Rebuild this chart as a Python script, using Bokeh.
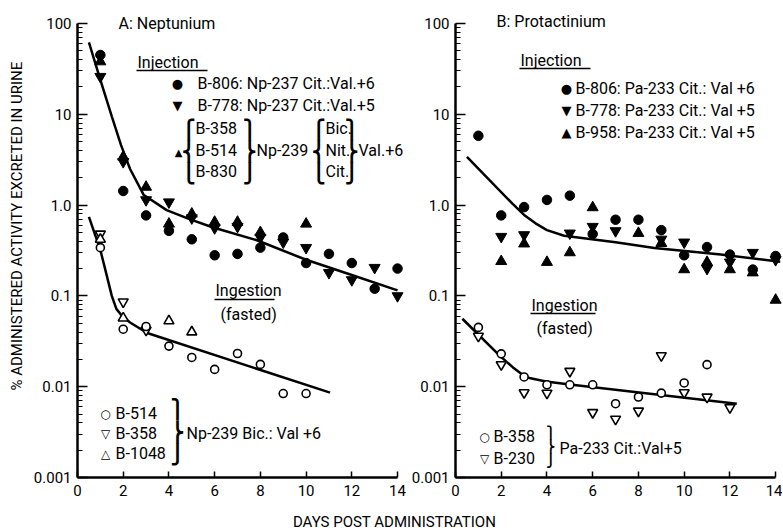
from bokeh.plotting import figure
from bokeh.layouts import column, row
from bokeh.models import Range1d, FixedTicker, CustomJSTickFormatter, Label, BoxAnnotation, Title
from bokeh.embed import file_html
from bokeh.resources import INLINE

# ---------------- data ----------------
X_TICKS = [0, 2, 4, 6, 8, 10, 12, 14]
Y_TICKS = [0.001, 0.01, 0.1, 1, 10, 100]

# Panel A: Neptunium, injection
A_DAYS_806 = [1, 2, 3, 4, 5, 6, 7, 8, 9, 10, 11, 12, 13, 14]
A_NP237_806 = [45, 1.43, 0.77, 0.52, 0.42, 0.28, 0.29, 0.34, 0.44, 0.23, 0.29, 0.23, 0.12, 0.2]
A_DAYS_778 = [1, 2, 3, 4, 5, 6, 7, 8, 9, 10, 11, 12, 13, 14]
A_NP237_778 = [26, 3.0, 1.14, 1.08, 0.72, 0.56, 0.58, 0.44, 0.39, 0.34, 0.18, 0.15, 0.205, 0.1]
A_DAYS_239 = [1, 2, 3, 4, 5, 6, 7, 8, 10]
A_NP239_INJ = [38, 3.4, 1.58, 0.62, 0.8, 0.65, 0.65, 0.5, 0.62]
A_INJ_FIT_X = [0.5, 1.0, 1.5, 1.9, 2.3, 2.9, 3.9, 4.9, 5.9, 7.85, 10, 12, 14]
A_INJ_FIT_Y = [62, 24, 9.5, 4.6, 2.5, 1.29, 0.88, 0.70, 0.57, 0.41, 0.25, 0.17, 0.115]

# Panel A: Neptunium, ingestion (fasted)
A_DAYS_514 = [1, 2, 3, 4, 5, 6, 7, 8, 9, 10]
A_ING_514 = [0.34, 0.043, 0.046, 0.028, 0.021, 0.0155, 0.0232, 0.0176, 0.0084, 0.0084]
A_DAYS_358 = [1, 2, 3]
A_ING_358 = [0.48, 0.086, 0.042]
A_DAYS_1048 = [1, 2, 4, 5]
A_ING_1048 = [0.42, 0.057, 0.053, 0.040]
A_ING_FIT_X = [0.5, 1.0, 1.3, 1.5, 1.7, 1.95, 2.3, 3.05, 11.05]
A_ING_FIT_Y = [0.74, 0.32, 0.16, 0.1, 0.072, 0.06, 0.051, 0.039, 0.0086]

# Panel B: Protactinium, injection
B_DAYS_806 = [1, 2, 3, 4, 5, 6, 7, 8, 9, 10, 11, 12, 13, 14]
B_PA233_806 = [5.8, 0.77, 0.95, 1.14, 1.27, 0.48, 0.69, 0.69, 0.53, 0.28, 0.345, 0.285, 0.195, 0.275]
B_DAYS_778 = [2, 3, 5, 6, 7, 9, 10, 11, 12, 13, 14]
B_PA233_778 = [0.45, 0.47, 0.49, 0.58, 0.52, 0.42, 0.39, 0.2, 0.235, 0.3, 0.25]
B_DAYS_958 = [2, 3, 4, 5, 6, 8, 9, 10, 11, 12, 13, 14]
B_PA233_958 = [0.24, 0.375, 0.235, 0.30, 0.94, 0.49, 0.38, 0.195, 0.235, 0.195, 0.18, 0.09]
B_INJ_FIT_X = [0.5, 2.5, 3.0, 3.5, 4.0, 4.75, 7.0, 8.7, 11.6, 14.2]
B_INJ_FIT_Y = [3.4, 1.03, 0.78, 0.63, 0.53, 0.46, 0.39, 0.337, 0.285, 0.238]

# Panel B: Protactinium, ingestion (fasted)
B_DAYS_358 = [1, 2, 3, 4, 5, 6, 7, 8, 9, 10, 11]
B_ING_358 = [0.045, 0.023, 0.0128, 0.0105, 0.0105, 0.0105, 0.0065, 0.0077, 0.0085, 0.011, 0.0175]
B_DAYS_230 = [1, 2, 3, 4, 5, 6, 7, 8, 9, 10, 11, 12]
B_ING_230 = [0.036, 0.0175, 0.0086, 0.0085, 0.0148, 0.0052, 0.0044, 0.0054, 0.022, 0.0086, 0.0077, 0.0059]
B_ING_FIT_X = [0.3, 1.93, 2.5, 3.08, 3.95, 5.0, 12.3]
B_ING_FIT_Y = [0.056, 0.022, 0.0164, 0.0127, 0.0114, 0.0106, 0.0065]

FONT = "Roboto"
SYM = "DejaVu Sans"

MINOR = [m * d for d in Y_TICKS[:-1] for m in range(2, 10)]

FIG_H = 505


def make_fig(width, left, xend):
    p = figure(width=width, height=FIG_H, y_axis_type="log",
               x_range=Range1d(0, xend), y_range=Range1d(0.001, 139),
               output_backend="svg", toolbar_location=None,
               min_border_left=left, min_border_right=0,
               min_border_top=10, min_border_bottom=28)
    p.outline_line_color = None
    p.grid.visible = False
    p.background_fill_color = "white"
    p.border_fill_color = "white"
    ya = p.yaxis[0]
    ya.ticker = FixedTicker(ticks=Y_TICKS, minor_ticks=MINOR)
    ya.bounds = (0.001, 100)
    ya.formatter = CustomJSTickFormatter(code="""
        if (Math.abs(tick - 1) < 1e-9) return '1.0';
        if (tick >= 1) return tick.toFixed(0);
        return String(parseFloat(tick.toPrecision(3)));
    """)
    xa = p.xaxis[0]
    xa.ticker = FixedTicker(ticks=X_TICKS, minor_ticks=[])
    xa.bounds = (0, 14)
    for ax in (xa, ya):
        ax.axis_line_width = 2.5
        ax.axis_line_color = "black"
        ax.major_tick_out = 0
        ax.minor_tick_out = 0
        ax.major_tick_line_width = 1.5
        ax.minor_tick_line_width = 1.2
        ax.major_tick_line_color = "black"
        ax.minor_tick_line_color = "black"
        ax.major_label_text_font = FONT
        ax.major_label_text_font_size = "15px"
        ax.major_label_text_color = "black"
    ya.major_tick_in = 10
    ya.minor_tick_in = 5
    ya.major_label_standoff = 6
    xa.major_tick_in = 6
    xa.major_label_standoff = 7
    return p


def txt(p, org, x, y, s, size=16, font=FONT, align="left", style="normal"):
    left_ref, bottom_ref = org
    p.add_layout(Label(x=x - left_ref, y=bottom_ref - y, x_units="screen", y_units="screen",
                       text=s, text_font=font, text_font_size=f"{size:.1f}px",
                       text_font_style=style,
                       text_align=align, text_baseline="middle", text_color="black"))


def uline(p, org, x0, x1, y):
    left_ref, bottom_ref = org
    p.add_layout(BoxAnnotation(left=x0 - left_ref, right=x1 - left_ref,
                               bottom=bottom_ref - y - 0.8, top=bottom_ref - y + 0.8,
                               left_units="screen", right_units="screen",
                               bottom_units="screen", top_units="screen",
                               fill_color="black", fill_alpha=1.0, line_color=None))


def brace(p, org, x, y0, y1, side):
    pieces = ["⎧", "⎨", "⎩"] if side == "left" else ["⎫", "⎬", "⎭"]
    h = (y1 - y0) / len(pieces)
    size = h / 1.164
    for i, c in enumerate(pieces):
        txt(p, org, x, y0 + h * (i + 0.5), c, size=size, font=SYM, align="center", style="bold")


def filled(p, x, y, marker, size):
    p.scatter(x, y, marker=marker, size=size, fill_color="black", line_color="black", line_width=1)


def hollow(p, x, y, marker, size):
    p.scatter(x, y, marker=marker, size=size, fill_color="white", line_color="black", line_width=1.6)


# ---------------- Panel A ----------------
pa = make_fig(408, 77, 14.48)
OA = (77, 477)
pa.add_layout(Title(text="% ADMINISTERED ACTIVITY EXCRETED IN URINE", align="left", offset=87,
                    standoff=10, text_font=FONT, text_font_size="15px",
                    text_font_style="normal", text_color="black"), "left")
pa.line(A_INJ_FIT_X, A_INJ_FIT_Y, line_color="black", line_width=2.5)
pa.line(A_ING_FIT_X, A_ING_FIT_Y, line_color="black", line_width=2.5)
filled(pa, A_DAYS_239, A_NP239_INJ, "triangle", 11)
filled(pa, A_DAYS_778, A_NP237_778, "inverted_triangle", 11)
filled(pa, A_DAYS_806, A_NP237_806, "circle", 9.5)
hollow(pa, A_DAYS_358, A_ING_358, "inverted_triangle", 10)
hollow(pa, A_DAYS_1048, A_ING_1048, "triangle", 10)
hollow(pa, A_DAYS_514, A_ING_514, "circle", 8)

txt(pa, OA, 118, 23, "A: Neptunium")
txt(pa, OA, 137, 62, "Injection")
uline(pa, OA, 136, 207, 70)
txt(pa, OA, 177, 83, "●", size=13, font=SYM, align="center")
txt(pa, OA, 197, 83, "B-806: Np-237 Cit.:Val.+6")
txt(pa, OA, 177, 105, "▼", size=13, font=SYM, align="center")
txt(pa, OA, 197, 105, "B-778: Np-237 Cit.:Val.+5")
txt(pa, OA, 178, 152, "▲", size=10, font=SYM, align="center")
brace(pa, OA, 188, 117, 183, "left")
txt(pa, OA, 195, 128, "B-358")
txt(pa, OA, 195, 150, "B-514")
txt(pa, OA, 195, 171, "B-830")
brace(pa, OA, 249, 117, 183, "right")
txt(pa, OA, 256, 150, "Np-239")
brace(pa, OA, 318, 117, 183, "left")
txt(pa, OA, 325, 128, "Bic.")
txt(pa, OA, 325, 150, "Nit.")
txt(pa, OA, 325, 171, "Cit.")
brace(pa, OA, 351, 117, 183, "right")
txt(pa, OA, 358, 150, "Val.+6")

txt(pa, OA, 215, 290, "Ingestion")
uline(pa, OA, 214, 274, 299)
txt(pa, OA, 220, 314, "(fasted)")

txt(pa, OA, 105, 413, "○", size=12, font=SYM, align="center")
txt(pa, OA, 115, 413, "B-514")
txt(pa, OA, 105, 433, "▽", size=12, font=SYM, align="center")
txt(pa, OA, 115, 433, "B-358")
txt(pa, OA, 105, 453, "△", size=12, font=SYM, align="center")
txt(pa, OA, 115, 453, "B-1048")
brace(pa, OA, 177, 398, 465, "right")
txt(pa, OA, 186, 433, "Np-239 Bic.: Val +6")

# ---------------- Panel B ----------------
pb = make_fig(374, 44, 14.3)
OB = (452, 477)
pb.line(B_INJ_FIT_X, B_INJ_FIT_Y, line_color="black", line_width=2.5)
pb.line(B_ING_FIT_X, B_ING_FIT_Y, line_color="black", line_width=2.5)
filled(pb, B_DAYS_958, B_PA233_958, "triangle", 11)
filled(pb, B_DAYS_778, B_PA233_778, "inverted_triangle", 11)
filled(pb, B_DAYS_806, B_PA233_806, "circle", 9.5)
hollow(pb, B_DAYS_230, B_ING_230, "inverted_triangle", 10)
hollow(pb, B_DAYS_358, B_ING_358, "circle", 8)

txt(pb, OB, 493, 21, "B: Protactinium")
txt(pb, OB, 517, 60, "Injection")
uline(pb, OB, 516, 587, 68)
txt(pb, OB, 563, 88, "●", size=13, font=SYM, align="center")
txt(pb, OB, 572, 88, "B-806: Pa-233 Cit.: Val +6")
txt(pb, OB, 563, 110, "▼", size=13, font=SYM, align="center")
txt(pb, OB, 572, 110, "B-778: Pa-233 Cit.: Val +5")
txt(pb, OB, 563, 132, "▲", size=13, font=SYM, align="center")
txt(pb, OB, 572, 132, "B-958: Pa-233 Cit.: Val +5")

txt(pb, OB, 528, 305, "Ingestion")
uline(pb, OB, 527, 592, 313)
txt(pb, OB, 533, 328, "(fasted)")

txt(pb, OB, 481, 436, "○", size=12, font=SYM, align="center")
txt(pb, OB, 490, 436, "B-358")
txt(pb, OB, 481, 458, "▽", size=12, font=SYM, align="center")
txt(pb, OB, 490, 458, "B-230")
brace(pb, OB, 547, 425, 468, "right")
txt(pb, OB, 556, 448, "Pa-233 Cit.:Val+5")

# ---------------- x axis title strip ----------------
px = figure(width=782, height=24, x_range=Range1d(0, 1), y_range=Range1d(0, 1),
            output_backend="svg", toolbar_location=None,
            min_border_left=0, min_border_right=0, min_border_top=0, min_border_bottom=0)
px.axis.visible = False
px.grid.visible = False
px.outline_line_color = None
px.add_layout(Label(x=394, y=8, x_units="screen", y_units="screen",
                    text="DAYS POST ADMINISTRATION", text_font=FONT, text_font_size="15px",
                    text_align="center", text_baseline="middle", text_color="black"))

layout = column(row(pa, pb), px)
open("out.html", "w").write(file_html(layout, INLINE))
